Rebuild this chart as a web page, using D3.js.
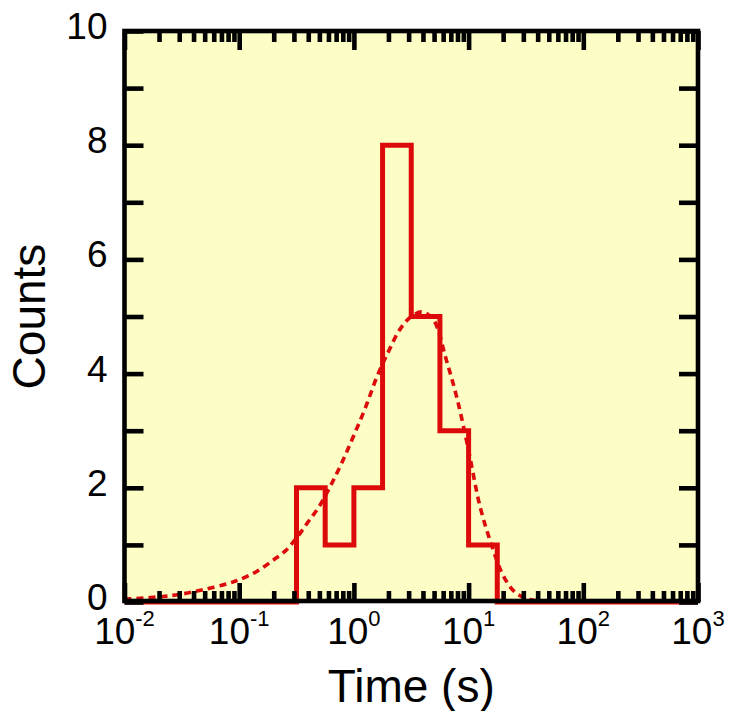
<!DOCTYPE html>
<html>
<head>
<meta charset="utf-8">
<script src="https://cdn.jsdelivr.net/npm/d3@7/dist/d3.min.js"></script>
<style>
  html, body { margin: 0; padding: 0; background: #ffffff; }
  svg { display: block; }
  text { font-family: "Liberation Sans", Arial, Helvetica, sans-serif; fill: #000; }
</style>
</head>
<body>
<svg id="chart" width="732" height="711"></svg>
<script>
// ---- data ----
const binEdges = [0.316, 0.562, 1.0, 1.778, 3.162, 5.623, 10.0, 17.78];
const binCounts = [2, 1, 2, 8, 5, 3, 1];

const fitTime = [0.01, 0.02, 0.0316, 0.05, 0.079, 0.1, 0.141, 0.2, 0.251, 0.316, 0.398, 0.501,
                 0.631, 0.794, 1.0, 1.259, 1.585, 1.995, 2.512, 3.162, 3.981, 5.012, 6.31,
                 7.943, 10.0, 12.59, 15.85, 19.95, 25.12, 31.62, 39.81];
const fitCounts = [0.05, 0.09, 0.14, 0.22, 0.32, 0.39, 0.53, 0.74, 0.89, 1.12, 1.40, 1.68,
                   2.05, 2.46, 2.92, 3.40, 3.94, 4.38, 4.77, 5.00, 5.08, 4.92, 4.28,
                   3.56, 2.65, 1.67, 1.00, 0.47, 0.18, 0.06, 0.02];

const xDomain = [0.01, 1000];
const yDomain = [0, 10];
const xTickExponents = [-2, -1, 0, 1, 2, 3];
const yTickValues = [0, 1, 2, 3, 4, 5, 6, 7, 8, 9, 10];
const yLabelValues = [0, 2, 4, 6, 8, 10];

// ---- layout ----
const L = 124.5, R = 698, T = 31, B = 602;
const red = "#dc0a0a";
const bg = "#fdfdc6";

const svg = d3.select("#chart");
const x = d3.scaleLog().domain(xDomain).range([L, R]);
const y = d3.scaleLinear().domain(yDomain).range([B, T]);

// background
svg.append("rect").attr("x", L).attr("y", T).attr("width", R - L).attr("height", B - T)
  .attr("fill", bg);

// fit curve
const line = d3.line().x(d => x(d[0])).y(d => y(d[1])).curve(d3.curveCatmullRom.alpha(0.5));
svg.append("path")
  .datum(fitTime.map((t, i) => [t, fitCounts[i]]))
  .attr("d", line)
  .attr("fill", "none")
  .attr("stroke", red)
  .attr("stroke-width", 3.6)
  .attr("stroke-dasharray", "7,5");

// histogram step outline
const pts = [[xDomain[0], 0], [binEdges[0], 0]];
binCounts.forEach((c, i) => {
  pts.push([binEdges[i], c]);
  pts.push([binEdges[i + 1], c]);
});
pts.push([binEdges[binEdges.length - 1], 0]);
pts.push([xDomain[1], 0]);
svg.append("path")
  .datum(pts)
  .attr("d", d3.line().x(d => x(d[0])).y(d => y(d[1])))
  .attr("fill", "none")
  .attr("stroke", red)
  .attr("stroke-width", 5)
  .attr("stroke-linejoin", "miter");

// axes
const tw = 4.6, majorLen = 19, minorLen = 11;
const minorTicks = [];
for (let e = -2; e < 3; e++) for (let m = 2; m <= 9; m++) minorTicks.push(m * Math.pow(10, e));
const majorTicks = xTickExponents.map(e => Math.pow(10, e));

const bottomAxis = d3.axisBottom(x).tickValues(majorTicks).tickSize(-majorLen).tickFormat("");
const bottomMinor = d3.axisBottom(x).tickValues(minorTicks).tickSize(-minorLen).tickFormat("");
const topAxis = d3.axisTop(x).tickValues(majorTicks).tickSize(-majorLen).tickFormat("");
const topMinor = d3.axisTop(x).tickValues(minorTicks).tickSize(-minorLen).tickFormat("");
const leftAxis = d3.axisLeft(y).tickValues(yTickValues).tickSize(-majorLen).tickFormat("");
const rightAxis = d3.axisRight(y).tickValues(yTickValues).tickSize(-majorLen).tickFormat("");

function styleAxis(g) {
  g.select(".domain").remove();
  g.selectAll(".tick line").attr("stroke", "#000").attr("stroke-width", tw);
}
svg.append("g").attr("transform", `translate(0,${B})`).call(bottomAxis).call(styleAxis);
svg.append("g").attr("transform", `translate(0,${B})`).call(bottomMinor).call(styleAxis);
svg.append("g").attr("transform", `translate(0,${T})`).call(topAxis).call(styleAxis);
svg.append("g").attr("transform", `translate(0,${T})`).call(topMinor).call(styleAxis);
svg.append("g").attr("transform", `translate(${L},0)`).call(leftAxis).call(styleAxis);
svg.append("g").attr("transform", `translate(${R},0)`).call(rightAxis).call(styleAxis);

// frame
svg.append("rect").attr("x", L).attr("y", T).attr("width", R - L).attr("height", B - 1 - T)
  .attr("fill", "none").attr("stroke", "#000").attr("stroke-width", 4.6);

// y labels
svg.append("g").selectAll("text").data(yLabelValues).join("text")
  .attr("x", L - 17).attr("y", d => y(d) + 8)
  .attr("text-anchor", "end")
  .attr("font-size", 37)
  .text(d => d);

// x labels with superscript exponent
const xl = svg.append("g").selectAll("text").data(xTickExponents).join("text")
  .attr("x", e => x(Math.pow(10, e))).attr("y", 644)
  .attr("text-anchor", "middle")
  .attr("font-size", 37);
xl.append("tspan").text("10");
xl.append("tspan").attr("dy", -18).attr("font-size", 22).text(e => e < 0 ? "-" + Math.abs(e) : String(e));

// axis titles
svg.append("text").attr("transform", `translate(45,${(T + B) / 2}) rotate(-90)`)
  .attr("text-anchor", "middle").attr("font-size", 46).text("Counts");
svg.append("text").attr("x", (L + R) / 2).attr("y", 702)
  .attr("text-anchor", "middle").attr("font-size", 46).text("Time (s)");
</script>
</body>
</html>
